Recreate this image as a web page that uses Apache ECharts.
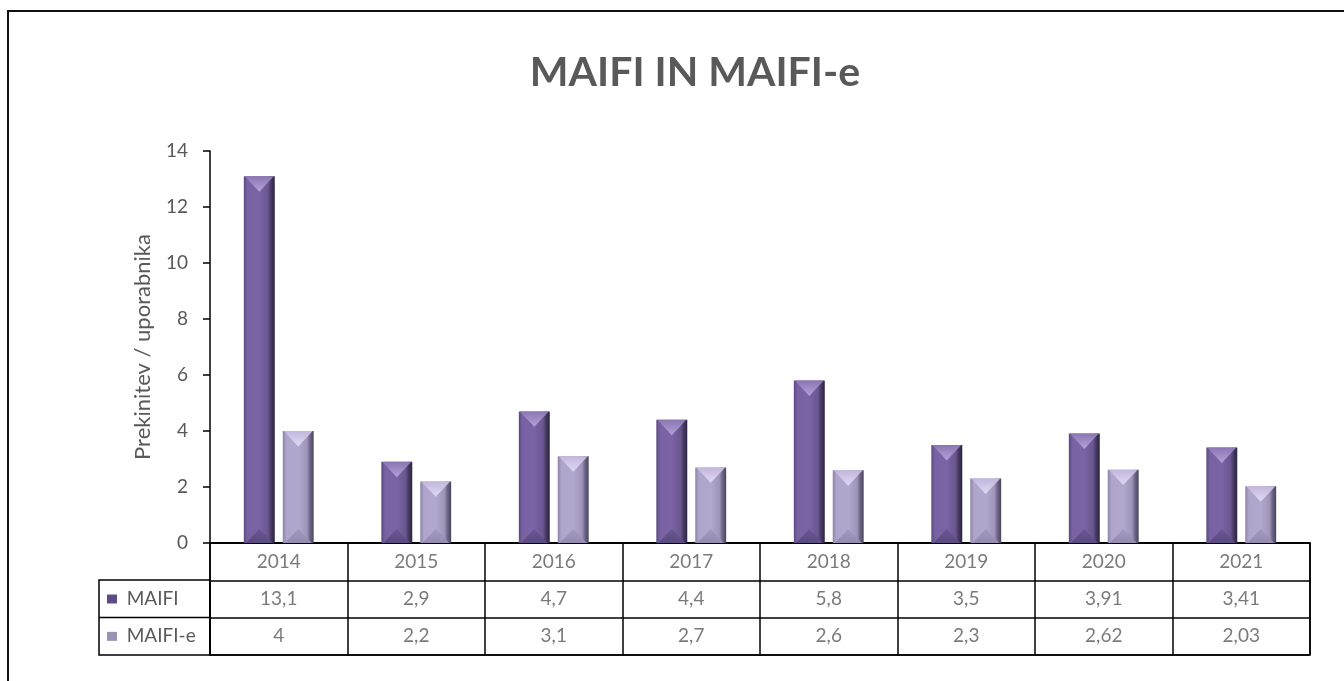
<!DOCTYPE html>
<html>
<head>
<meta charset="utf-8">
<script src="https://cdn.jsdelivr.net/npm/echarts@6/dist/echarts.min.js"></script>
<style>
  html, body { margin: 0; padding: 0; background: #fff; }
  #chart { width: 1344px; height: 681px; }
</style>
</head>
<body>
<div id="chart"></div>
<script>
// podatki
const years = ['2014', '2015', '2016', '2017', '2018', '2019', '2020', '2021'];
const maifi = [13.1, 2.9, 4.7, 4.4, 5.8, 3.5, 3.91, 3.41];
const maifiE = [4, 2.2, 3.1, 2.7, 2.6, 2.3, 2.62, 2.03];
const rowNames = ['leto', 'MAIFI', 'MAIFI-e'];

const txt = '#595959';
const font = 'Lato, "Open Sans", sans-serif';

// barve (telo, vrh, dno, ikona)
const pal = {
  MAIFI: {
    body: ['#5c4a82', '#7862a3', '#7a64a6', '#6a568f', '#463a62', '#2b2340'],
    top: ['#8a76b2', '#b4a2d8'],
    bot: ['#6a5792', '#5a4a80'],
    icon: '#5e4b84'
  },
  'MAIFI-e': {
    body: ['#8e84a8', '#afa4cb', '#b2a8cd', '#9f95b8', '#6e6688', '#4a4458'],
    top: ['#c2b6dc', '#e2d9f4'],
    bot: ['#a398bf', '#958ab0'],
    icon: '#9b90b5'
  }
};

const fmt = v => String(v).replace('.', ',');

function bevelBar(sign, p) {
  return function (params, api) {
    const i = api.value(0), v = api.value(1);
    const top = api.coord([i, v]);
    const base = api.coord([i, 0]);
    const band = api.size([1, 0])[0];
    const w = band * 0.225;
    const off = (w + band * 0.058) / 2 * sign;
    const x0 = top[0] + off - w / 2, x1 = x0 + w, cx = x0 + w / 2;
    const y0 = top[1], y1 = base[1];
    const h = y1 - y0;
    const d = Math.min(w / 2, h / 2);
    const bs = p.body;
    return {
      type: 'group',
      children: [
        {
          type: 'rect',
          shape: { x: x0, y: y0, width: w, height: h },
          style: {
            fill: new echarts.graphic.LinearGradient(0, 0, 1, 0, [
              { offset: 0, color: bs[0] }, { offset: 0.12, color: bs[1] },
              { offset: 0.5, color: bs[2] }, { offset: 0.78, color: bs[3] },
              { offset: 0.88, color: bs[4] }, { offset: 1, color: bs[5] }
            ])
          }
        },
        {
          type: 'polygon',
          shape: { points: [[x0 + 1, y0], [x1 - 1, y0], [cx, y0 + d]] },
          style: {
            fill: new echarts.graphic.LinearGradient(0, 0, 0, 1, [
              { offset: 0, color: p.top[0] }, { offset: 1, color: p.top[1] }
            ])
          }
        },
        {
          type: 'polygon',
          shape: { points: [[x0 + 2, y1], [x1 - 2, y1], [cx, y1 - d * 0.9]] },
          style: {
            fill: new echarts.graphic.LinearGradient(0, 0, 0, 1, [
              { offset: 0, color: p.bot[0] }, { offset: 1, color: p.bot[1] }
            ])
          }
        }
      ]
    };
  };
}

const chart = echarts.init(document.getElementById('chart'));

// celice tabele
const cells = [];
years.forEach((y, i) => {
  cells.push({ name: y, value: [i, 0] });
  cells.push({ name: fmt(maifi[i]), value: [i, 1] });
  cells.push({ name: fmt(maifiE[i]), value: [i, 2] });
});

const option = {
  animation: false,
  backgroundColor: '#fff',
  title: {
    text: 'MAIFI IN MAIFI-e',
    left: 690,
    textAlign: 'center',
    top: 47,
    textStyle: { color: txt, fontSize: 41, fontWeight: 'bold', fontFamily: font }
  },
  grid: [
    { left: 210, top: 151, width: 1100, height: 392 },
    { left: 210, top: 543, width: 1100, height: 112, show: true, borderColor: '#000', borderWidth: 1.5 }
  ],
  xAxis: [
    {
      gridIndex: 0, type: 'category', data: years,
      axisLine: { lineStyle: { color: '#000', width: 1.5 } },
      axisTick: { show: false }, axisLabel: { show: false }
    },
    {
      gridIndex: 1, type: 'category', data: years,
      axisLine: { show: false }, axisTick: { show: false }, axisLabel: { show: false },
      splitLine: { show: true, lineStyle: { color: '#000', width: 1.5 } }
    }
  ],
  yAxis: [
    {
      gridIndex: 0, type: 'value', min: 0, max: 14, interval: 2,
      name: 'Prekinitev / uporabnika', nameLocation: 'middle', nameGap: 56,
      nameTextStyle: { color: txt, fontSize: 22, fontFamily: font },
      axisLine: { show: true, lineStyle: { color: '#000', width: 1.5 } },
      axisTick: { show: true, length: 7, lineStyle: { color: '#000', width: 1.5 } },
      axisLabel: { color: txt, fontSize: 19, fontFamily: font, margin: 22 },
      splitLine: { show: false }
    },
    {
      gridIndex: 1, type: 'category', data: rowNames, inverse: true,
      axisLine: { show: false }, axisTick: { show: false },
      splitLine: { show: true, lineStyle: { color: '#000', width: 1.5 } },
      axisLabel: {
        align: 'left', margin: 103, fontSize: 19, fontFamily: font, color: txt,
        formatter: v => v === 'MAIFI' ? '{a|}  ' + v : v === 'MAIFI-e' ? '{b|}  ' + v : '',
        rich: {
          a: { width: 10, height: 9, backgroundColor: pal.MAIFI.icon },
          b: { width: 10, height: 9, backgroundColor: pal['MAIFI-e'].icon }
        }
      }
    }
  ],
  graphic: [
    {
      type: 'rect', shape: { x: 8, y: 11, width: 1400, height: 720 },
      style: { fill: 'none', stroke: '#111', lineWidth: 2 }, silent: true
    },
    {
      type: 'rect', shape: { x: 99, y: 580, width: 111, height: 75 },
      style: { fill: 'none', stroke: '#000', lineWidth: 1.5 }, silent: true
    },
    {
      type: 'line', shape: { x1: 99, y1: 617.5, x2: 210, y2: 617.5 },
      style: { stroke: '#000', lineWidth: 1.5 }, silent: true
    }
  ],
  series: [
    {
      name: 'MAIFI', type: 'custom', xAxisIndex: 0, yAxisIndex: 0,
      renderItem: bevelBar(-1, pal.MAIFI),
      encode: { x: 0, y: 1 },
      data: maifi.map((v, i) => [i, v])
    },
    {
      name: 'MAIFI-e', type: 'custom', xAxisIndex: 0, yAxisIndex: 0,
      renderItem: bevelBar(1, pal['MAIFI-e']),
      encode: { x: 0, y: 1 },
      data: maifiE.map((v, i) => [i, v])
    },
    {
      name: 'tabela', type: 'scatter', xAxisIndex: 1, yAxisIndex: 1,
      symbolSize: 1, itemStyle: { color: 'transparent' },
      label: {
        show: true, position: 'inside', formatter: '{b}',
        color: txt, fontSize: 19, fontFamily: font
      },
      data: cells
    }
  ]
};

chart.setOption(option);
window.addEventListener('resize', function () {
  chart.resize();
});
</script>
</body>
</html>
